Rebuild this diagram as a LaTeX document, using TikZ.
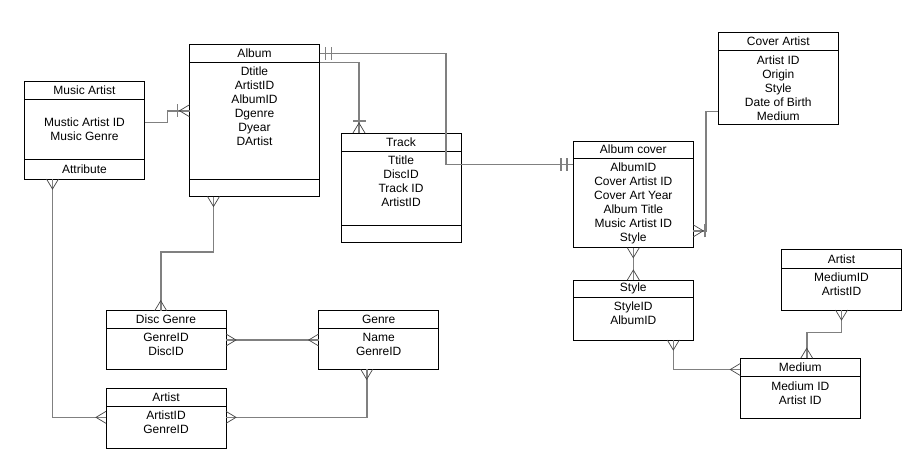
\documentclass[tikz,border=0pt]{standalone}
\usepackage{fontspec}
\setmainfont{Liberation Sans}
\usepackage{tikz}
\usetikzlibrary{positioning}
\usepackage{xcolor}
\definecolor{linkgray}{RGB}{128,128,128}
\definecolor{footgray}{RGB}{70,70,70}

\tikzset{
  ehead/.style={draw,line width=0.7pt,outer sep=0pt,minimum width=120pt,minimum height=18pt,inner sep=0pt,anchor=north west},
  ebody/.style={draw,line width=0.7pt,outer sep=0pt,minimum width=120pt,inner sep=0pt,align=center},
  elist/.style={inner sep=0pt,align=center},
  link/.style={draw=linkgray,line width=1.6pt},
  foot/.style={draw=footgray,line width=0.7pt},
  bar/.style={draw=linkgray,line width=1.8pt},
  pics/many/.style={code={\draw[foot] (0,-6) -- (-10,0) -- (0,6);}},
  pics/onemany/.style={code={\draw[bar] (-12,-6.5) -- (-12,6.5); \draw[foot] (0,-6) -- (-10,0) -- (0,6);}},
  pics/onlyone/.style={code={\draw[bar] (-6,-6.5) -- (-6,6.5); \draw[bar] (-12,-6.5) -- (-12,6.5);}},
}

\begin{document}
\begin{tikzpicture}[x=1pt,y=-1pt,font=\fontsize{12}{14}\selectfont,line cap=butt]
\useasboundingbox (0,0) rectangle (923,468);

% entities
\node[ehead] (martist) at (24.5,81.5) {Music Artist};
\node[ebody,minimum height=59.5pt,below=0pt of martist] (martist-b) {Mustic Artist ID\\Music Genre};
\node[ebody,minimum height=20pt,below=0pt of martist-b] (martist-f) {Attribute};

\node[ehead,minimum width=130pt] (album) at (189.5,44.5) {Album};
\node[ebody,minimum width=130pt,minimum height=116.5pt,below=0pt of album] (album-b) {};
\node[elist,below=4.5pt of album] (album-t) {Dtitle\\ArtistID\\AlbumID\\Dgenre\\Dyear\\DArtist};
\node[ebody,minimum width=130pt,minimum height=17.5pt,below=0pt of album-b] (album-f) {};

\node[ehead] (track) at (341,133) {Track};
\node[ebody,minimum height=74pt,below=0pt of track] (track-b) {};
\node[elist,below=4.5pt of track] (track-t) {Ttitle\\DiscID\\Track ID\\ArtistID};
\node[ebody,minimum height=17.7pt,below=0pt of track-b] (track-f) {};

\node[ehead,minimum height=17pt] (cover) at (573.3,141) {Album cover};
\node[ebody,minimum height=89.7pt,below=0pt of cover] (cover-b) {};
\node[elist,below=4.5pt of cover] (cover-t) {AlbumID\\Cover Artist ID\\Cover Art Year\\Album Title\\Music Artist ID\\Style};

\node[ehead] (cartist) at (718.3,32.7) {Cover Artist};
\node[ebody,minimum height=73.6pt,below=0pt of cartist] (cartist-b) {};
\node[elist,below=4.5pt of cartist] (cartist-t) {Artist ID\\Origin\\Style\\Date of Birth\\Medium};

\node[ehead] (dgenre) at (106,310.7) {Disc Genre};
\node[ebody,minimum height=40.6pt,below=0pt of dgenre] (dgenre-b) {};
\node[elist,below=4.5pt of dgenre] (dgenre-t) {GenreID\\DiscID};

\node[ehead] (genre) at (318.7,310.7) {Genre};
\node[ebody,minimum height=40.6pt,below=0pt of genre] (genre-b) {};
\node[elist,below=4.5pt of genre] (genre-t) {Name\\GenreID};

\node[ehead,minimum height=17.3pt] (artist) at (106,388.7) {Artist};
\node[ebody,minimum height=42.7pt,below=0pt of artist] (artist-b) {};
\node[elist,below=4.5pt of artist] (artist-t) {ArtistID\\GenreID};

\node[ehead,minimum height=17.3pt] (style) at (573.3,280) {Style};
\node[ebody,minimum height=42.7pt,below=0pt of style] (style-b) {};
\node[elist,below=4.5pt of style] (style-t) {StyleID\\AlbumID};

\node[ehead,minimum height=18.5pt] (medartist) at (781.5,249.5) {Artist};
\node[ebody,minimum height=42pt,below=0pt of medartist] (medartist-b) {};
\node[elist,below=4.5pt of medartist] (medartist-t) {MediumID\\ArtistID};

\node[ehead,minimum height=18.4pt] (medium) at (740.3,358.3) {Medium};
\node[ebody,minimum height=41.6pt,below=0pt of medium] (medium-b) {};
\node[elist,below=4.5pt of medium] (medium-t) {Medium ID\\Artist ID};

% relations
\draw[link] ([yshift=6.6pt]martist-b.east) -- ++(23,0) |- ([yshift=10pt]album-b.west);
\pic at ([yshift=10pt]album-b.west) {onemany};

\draw[link] (album.east) -- ++(126.5,0) |- ([yshift=-6.5pt]cover-b.north west);
\pic[rotate=180] at (album.east) {onlyone};
\pic at ([yshift=-6.5pt]cover-b.north west) {onlyone};

\draw[link] (album.south east) -| ([xshift=18pt]track.north west);
\pic[rotate=-90] at ([xshift=18pt]track.north west) {onemany};

\draw[link] ([xshift=24pt]album-f.south west) -- ++(0,55.6) -| ([xshift=54.7pt]dgenre.north west);
\pic[rotate=90] at ([xshift=24pt]album-f.south west) {many};
\pic[rotate=-90] at ([xshift=54.7pt]dgenre.north west) {many};

\draw[link] ([yshift=9pt]dgenre-b.east) -- ([yshift=9pt]genre-b.west);
\pic[rotate=180] at ([yshift=9pt]dgenre-b.east) {many};
\pic at ([yshift=9pt]genre-b.west) {many};

\draw[link] ([xshift=48pt]genre-b.south west) |- ([yshift=10pt]artist-b.east);
\pic[rotate=90] at ([xshift=48pt]genre-b.south west) {many};
\pic[rotate=180] at ([yshift=10pt]artist-b.east) {many};

\draw[link] ([xshift=28pt]martist-f.south west) |- ([yshift=10pt]artist-b.west);
\pic[rotate=90] at ([xshift=28pt]martist-f.south west) {many};
\pic at ([yshift=10pt]artist-b.west) {many};

\draw[link] ([yshift=-28pt]cover-b.east) -- ++(12.5,0) |- ([yshift=-24pt]cartist-b.west);
\pic[rotate=180] at ([yshift=-28pt]cover-b.east) {onemany};

\draw[link] (cover-b.south) -- (style.north);
\pic[rotate=90] at (cover-b.south) {many};
\pic[rotate=-90] at (style.north) {many};

\draw[link] ([xshift=100pt]style-b.south west) |- ([yshift=-2pt]medium.west);
\pic[rotate=90] at ([xshift=100pt]style-b.south west) {many};
\pic at ([yshift=-2pt]medium.west) {many};

\draw[link] (medartist-b.south) -- ++(0,22.5) -| ([xshift=66.4pt]medium.north west);
\pic[rotate=90] at (medartist-b.south) {many};
\pic[rotate=-90] at ([xshift=66.4pt]medium.north west) {many};
\end{tikzpicture}
\end{document}
